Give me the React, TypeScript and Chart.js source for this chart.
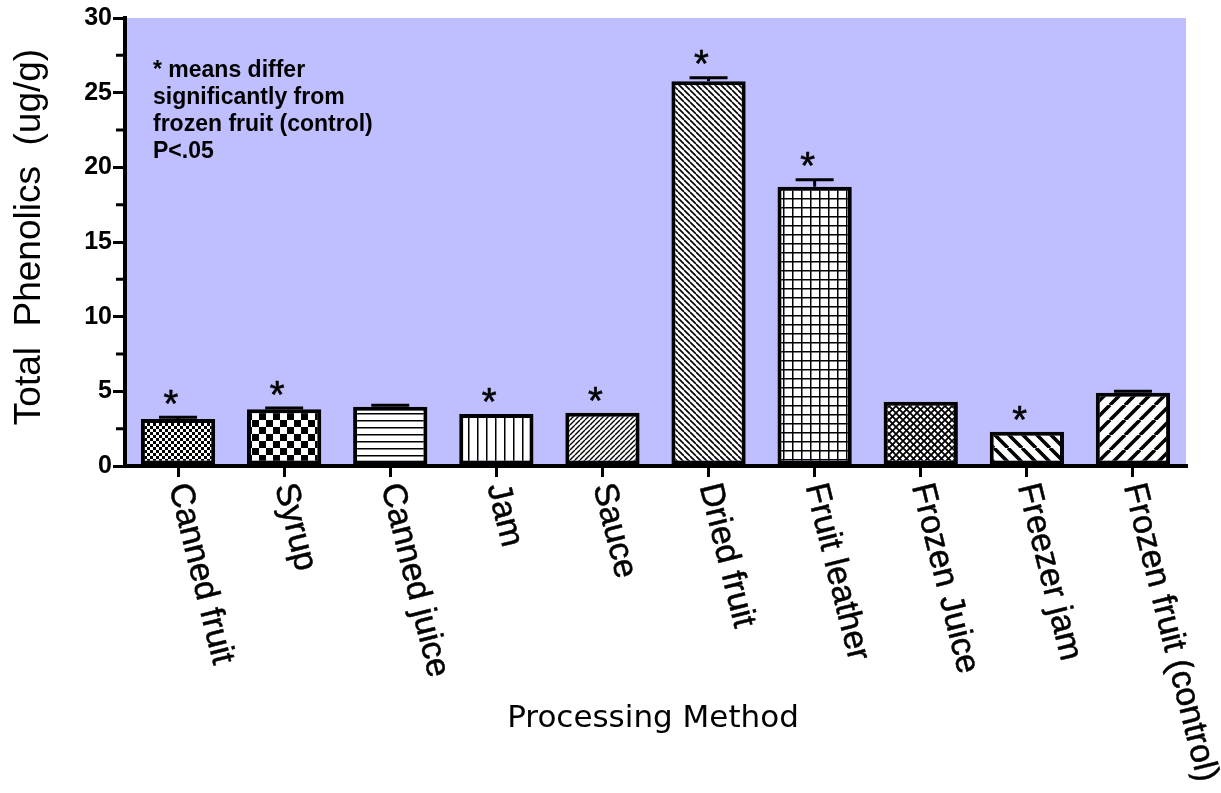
import React, { useEffect, useRef } from 'react';
import { Chart, registerables } from 'chart.js';

Chart.register(...registerables);

// ---- data ----
const categories = [
  'Canned fruit',
  'Syrup',
  'Canned juice',
  'Jam',
  'Sauce',
  'Dried fruit',
  'Fruit leather',
  'Frozen Juice',
  'Freezer jam',
  'Frozen fruit (control)',
];
const phenolics = [3.15, 3.8, 3.97, 3.48, 3.57, 25.76, 18.7, 4.31, 2.3, 4.91];
const sem = [0.12, 0.08, 0.1, 0, 0, 0.24, 0.47, 0, 0, 0.1];
const significant = [true, true, false, true, true, true, true, false, true, false];
const yTicks = [0, 5, 10, 15, 20, 25, 30];
const yMinorTicks = [2.5, 7.5, 12.5, 17.5, 22.5, 27.5];
const noteLines = ['* means differ', 'significantly from', 'frozen fruit (control)', 'P<.05'];
const yTitle = 'Total  Phenolics  (ug/g)';
const xTitle = 'Processing Method';

// ---- styles ----
const barPatterns = [
  'checkFine',
  'checkLarge',
  'hlines',
  'vlines',
  'diagUp',
  'diagDown',
  'grid',
  'diamond',
  'diagDownThick',
  'diagUpThick',
];
const PLOT_BG = '#BFBFFF';

function makePattern(kind: string, ctxRef: CanvasRenderingContext2D): CanvasPattern | string {
  const c = document.createElement('canvas');
  let s = 8;
  const setup = (size: number) => {
    s = size;
    c.width = size;
    c.height = size;
    const g = c.getContext('2d')!;
    g.fillStyle = '#fff';
    g.fillRect(0, 0, size, size);
    g.fillStyle = '#000';
    g.strokeStyle = '#000';
    return g;
  };
  let g: CanvasRenderingContext2D;
  const diagUp = (gg: CanvasRenderingContext2D, lw: number) => {
    gg.lineWidth = lw;
    gg.beginPath();
    for (let k = -1; k <= 1; k++) {
      gg.moveTo(k * s, s);
      gg.lineTo(k * s + s, 0);
    }
    gg.stroke();
  };
  const diagDown = (gg: CanvasRenderingContext2D, lw: number) => {
    gg.lineWidth = lw;
    gg.beginPath();
    for (let k = -1; k <= 1; k++) {
      gg.moveTo(k * s, 0);
      gg.lineTo(k * s + s, s);
    }
    gg.stroke();
  };
  switch (kind) {
    case 'checkFine':
      g = setup(6);
      g.fillRect(0, 0, 3, 3);
      g.fillRect(3, 3, 3, 3);
      break;
    case 'checkLarge':
      g = setup(14);
      g.fillRect(0, 0, 7, 7);
      g.fillRect(7, 7, 7, 7);
      break;
    case 'hlines':
      g = setup(7);
      g.fillRect(0, 0, 7, 1.5);
      break;
    case 'vlines':
      g = setup(9);
      g.fillRect(0, 0, 1.5, 9);
      break;
    case 'diagUp':
      g = setup(5);
      diagUp(g, 1.4);
      break;
    case 'diagDown':
      g = setup(6);
      diagDown(g, 1.6);
      break;
    case 'grid':
      g = setup(9);
      g.fillRect(0, 0, 9, 1.5);
      g.fillRect(0, 0, 1.5, 9);
      break;
    case 'diamond':
      g = setup(7);
      diagUp(g, 1.8);
      diagDown(g, 1.8);
      break;
    case 'diagDownThick':
      g = setup(14);
      diagDown(g, 3.6);
      break;
    case 'diagUpThick':
      g = setup(15);
      diagUp(g, 3.6);
      break;
    default:
      return '#fff';
  }
  return ctxRef.createPattern(c, 'repeat') || '#fff';
}

const decor = {
  id: 'decor',
  beforeDraw(chart: any) {
    const { ctx, chartArea: a } = chart;
    ctx.save();
    ctx.fillStyle = PLOT_BG;
    ctx.fillRect(a.left, a.top, a.right - a.left, a.bottom - a.top);
    ctx.restore();
  },
  afterDatasetsDraw(chart: any) {
    const ctx: CanvasRenderingContext2D = chart.ctx;
    const y = chart.scales.y;
    const meta = chart.getDatasetMeta(0);
    ctx.save();
    ctx.strokeStyle = '#000';
    ctx.fillStyle = '#000';
    meta.data.forEach((bar: any, i: number) => {
      const v = phenolics[i];
      const e = sem[i];
      let top = y.getPixelForValue(v);
      if (e > 0) {
        const ye = y.getPixelForValue(v + e);
        ctx.lineWidth = 3;
        ctx.beginPath();
        ctx.moveTo(bar.x, top);
        ctx.lineTo(bar.x, ye);
        ctx.moveTo(bar.x - 19, ye);
        ctx.lineTo(bar.x + 19, ye);
        ctx.stroke();
        top = Math.min(top, ye - 1.5);
      }
      if (significant[i]) {
        ctx.font = '38px "Liberation Sans", Arial, sans-serif';
        ctx.textAlign = 'left';
        ctx.textBaseline = 'alphabetic';
        const m = ctx.measureText('*');
        const cx = bar.x - 7;
        const cy = top - 19;
        const x0 = cx - (m.actualBoundingBoxRight - m.actualBoundingBoxLeft) / 2;
        const y0 = cy + (m.actualBoundingBoxAscent - m.actualBoundingBoxDescent) / 2;
        ctx.fillText('*', x0, y0);
        ctx.lineWidth = 0.6;
        ctx.strokeText('*', x0, y0);
      }
    });
    ctx.restore();
  },
  afterDraw(chart: any) {
    const ctx: CanvasRenderingContext2D = chart.ctx;
    const a = chart.chartArea;
    const y = chart.scales.y;
    const xs = chart.scales.x;
    ctx.save();
    ctx.strokeStyle = '#000';
    ctx.fillStyle = '#000';

    // minor y ticks
    ctx.lineWidth = 3;
    ctx.beginPath();
    yMinorTicks.forEach((v) => {
      const py = y.getPixelForValue(v);
      ctx.moveTo(a.left - 9, py);
      ctx.lineTo(a.left - 2, py);
    });
    ctx.stroke();

    // rotated category labels
    ctx.font = '34px "Liberation Sans", Arial, sans-serif';
    ctx.textAlign = 'left';
    ctx.textBaseline = 'middle';
    ctx.lineWidth = 0.5;
    (chart.data.labels as string[]).forEach((lab, i) => {
      const px = xs.getPixelForTick(i);
      ctx.save();
      ctx.translate(px, 484);
      ctx.rotate((76 * Math.PI) / 180);
      ctx.fillText(lab, 0, 0);
      ctx.strokeText(lab, 0, 0);
      ctx.restore();
    });

    // x title
    ctx.font = '31px "DejaVu Sans", sans-serif';
    ctx.textAlign = 'center';
    ctx.textBaseline = 'alphabetic';
    ctx.fillText(xTitle, 653, 727);

    // y title
    ctx.save();
    ctx.translate(40, 237);
    ctx.rotate(-Math.PI / 2);
    ctx.font = '37px "Liberation Sans", Arial, sans-serif';
    ctx.textAlign = 'center';
    ctx.textBaseline = 'alphabetic';
    ctx.fillText(yTitle, 0, 0);
    ctx.restore();

    // note
    ctx.font = 'bold 23px "Liberation Sans", Arial, sans-serif';
    ctx.textAlign = 'left';
    ctx.textBaseline = 'alphabetic';
    noteLines.forEach((t, i) => {
      ctx.fillText(t, 153, 76.5 + i * 27);
    });
    ctx.restore();
  },
};

export default function App() {
  const ref = useRef<HTMLCanvasElement | null>(null);
  useEffect(() => {
    document.body.style.margin = '0';
    const canvas = ref.current!;
    const ctx = canvas.getContext('2d')!;
    const patterns = barPatterns.map((k) => makePattern(k, ctx));
    const chart = new Chart(canvas, {
      type: 'bar',
      data: {
        labels: categories,
        datasets: [
          {
            data: phenolics,
            backgroundColor: patterns as any,
            borderColor: '#000',
            borderWidth: 4,
            borderSkipped: false,
            barPercentage: 0.7,
            categoryPercentage: 1.0,
          },
        ],
      },
      options: {
        animation: false,
        responsive: true,
        maintainAspectRatio: false,
        layout: { padding: { top: 18, right: 35, left: 0, bottom: 0 } },
        plugins: { legend: { display: false }, tooltip: { enabled: false } },
        scales: {
          x: {
            type: 'category',
            offset: true,
            grid: {
              display: true,
              offset: false,
              drawOnChartArea: false,
              drawTicks: true,
              tickLength: 11,
              lineWidth: 3,
              color: '#000',
            },
            border: { display: true, width: 4, color: '#000', z: 1 },
            ticks: { display: false },
            afterFit: (s: any) => {
              s.height = 327;
            },
          },
          y: {
            min: 0,
            max: 30,
            afterBuildTicks: (s: any) => {
              s.ticks = yTicks.map((v) => ({ value: v }));
            },
            ticks: {
              color: '#000',
              padding: 1,
              font: { family: '"Liberation Sans", Arial, sans-serif', size: 25, weight: 'bold' },
            },
            grid: {
              display: true,
              drawOnChartArea: false,
              drawTicks: true,
              tickLength: 12,
              lineWidth: 3,
              color: '#000',
            },
            border: { display: true, width: 4, color: '#000', z: 1 },
            afterFit: (s: any) => {
              s.width = 125;
            },
          },
        },
      },
      plugins: [decor],
    });
    return () => chart.destroy();
  }, []);
  return (
    <div style={{ position: 'relative', width: '1221px', height: '793px' }}>
      <canvas ref={ref} />
    </div>
  );
}
